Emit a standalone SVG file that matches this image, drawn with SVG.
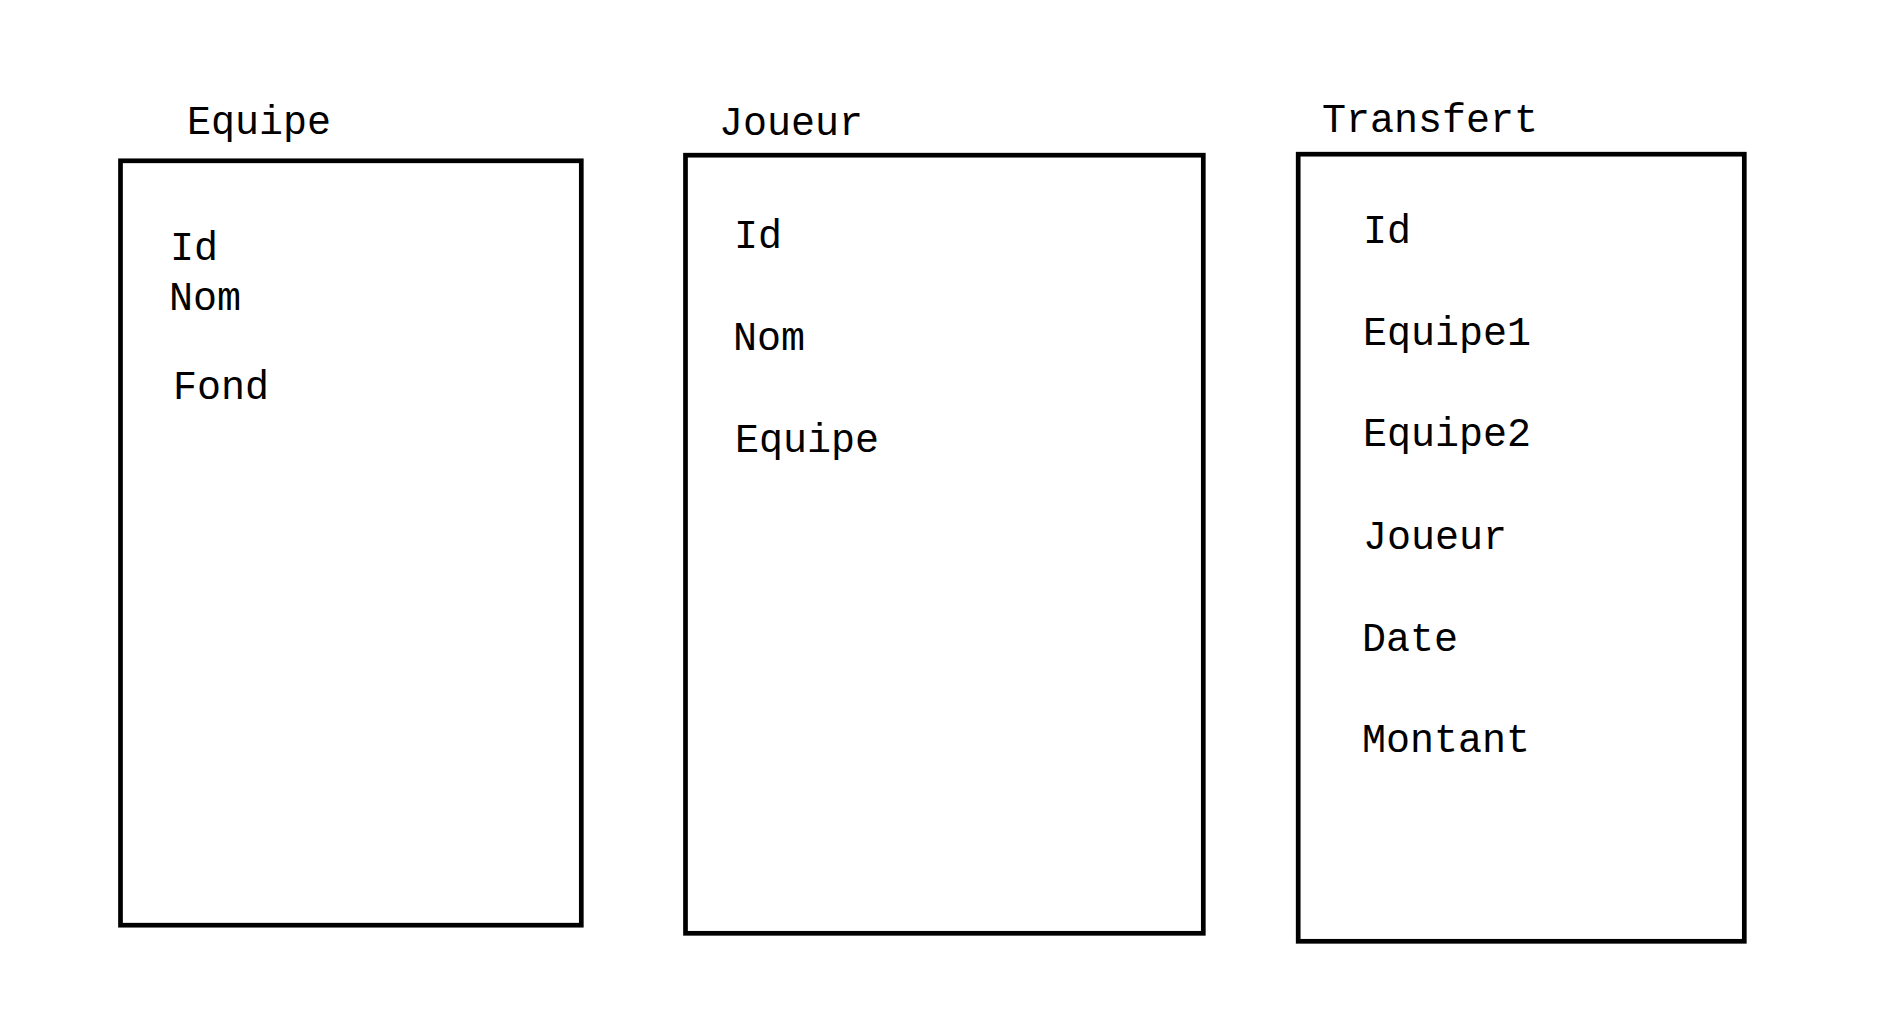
<svg xmlns="http://www.w3.org/2000/svg" width="1898" height="1027" viewBox="0 0 1898 1027">
<style>
.box{fill:#fff;stroke:#000;stroke-width:4.7}
text{font-family:"Liberation Mono","DejaVu Sans Mono",monospace;font-size:40px;fill:#000}
</style>
<rect width="1898" height="1027" fill="#fff"/>
<g id="connectors"></g>
<g id="equipe">
<text x="187" y="134">Equipe</text>
<rect class="box" x="120.5" y="160.8" width="460.8" height="764.4"/>
<text x="170" y="260">Id</text>
<text x="169" y="310">Nom</text>
<text x="173" y="399">Fond</text>
</g>
<g id="joueur">
<text x="719" y="135">Joueur</text>
<rect class="box" x="685.5" y="155.2" width="517.8" height="778.1"/>
<text x="734" y="248">Id</text>
<text x="733" y="350">Nom</text>
<text x="735" y="451.5">Equipe</text>
</g>
<g id="transfert">
<text x="1322" y="131.5">Transfert</text>
<rect class="box" x="1298.2" y="154.2" width="446.1" height="787.1"/>
<text x="1363" y="243">Id</text>
<text x="1363" y="345">Equipe1</text>
<text x="1363" y="446">Equipe2</text>
<text x="1363" y="549">Joueur</text>
<text x="1362" y="650.5">Date</text>
<text x="1362" y="751.5">Montant</text>
</g>
</svg>
